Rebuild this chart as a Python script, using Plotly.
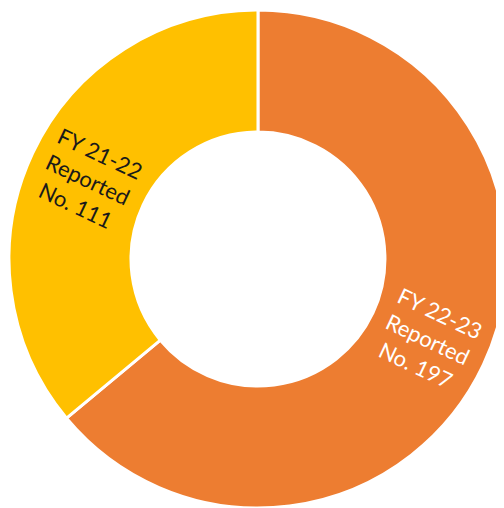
import math
import plotly.graph_objects as go

labels = ["FY 22-23", "FY 21-22"]
values = [197, 111]
texts = ["FY 22-23<br>Reported<br>No. 197", "FY 21-22<br>Reported<br>No. 111"]
colors = ["#ED7D31", "#FFC000"]
text_colors = ["#FFFFFF", "#1A1A1A"]

W, H = 504, 508
HOLE = 0.51
# page body has an 8px margin; the pie is placed relative to the figure
dom_x = [0.002, 0.990]
dom_y = [0.0157, 0.996]

fig = go.Figure(go.Pie(
    labels=labels,
    values=values,
    hole=HOLE,
    sort=False,
    direction="clockwise",
    rotation=0,
    marker=dict(colors=colors, line=dict(color="white", width=3)),
    textinfo="none",
    showlegend=False,
    hoverinfo="label+value",
    domain=dict(x=dom_x, y=dom_y),
))

# radial labels at the middle of each slice (angles derived from the values)
cx = (dom_x[0] + dom_x[1]) / 2 * W
cy = (dom_y[0] + dom_y[1]) / 2 * H
R = min((dom_x[1] - dom_x[0]) * W, (dom_y[1] - dom_y[0]) * H) / 2
r_mid = R * (1 + HOLE) / 2
total = sum(values)
cum = 0
for v, t, c in zip(values, texts, text_colors):
    mid = (cum + v / 2) / total * 360
    cum += v
    a = math.radians(mid)
    px = (cx + r_mid * math.sin(a)) / W
    py = (cy + r_mid * math.cos(a)) / H
    ang = mid - 90 if mid < 180 else mid - 270
    fig.add_annotation(
        x=px, y=py, xref="paper", yref="paper",
        text=t, showarrow=False, textangle=ang,
        xanchor="center", yanchor="middle", align="center",
        font=dict(family="Lato, Open Sans, sans-serif", size=22, color=c),
    )

fig.update_layout(
    width=W, height=H,
    margin=dict(l=0, r=0, t=0, b=0),
    paper_bgcolor="white",
    plot_bgcolor="white",
)

fig.write_html("out.html")
